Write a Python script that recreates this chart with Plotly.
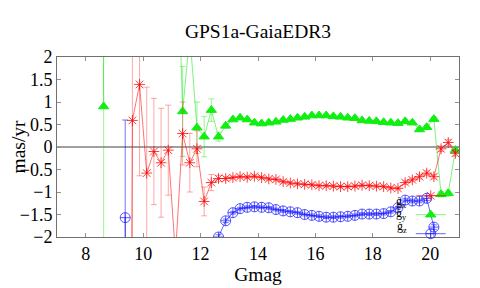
import plotly.graph_objects as go

# ---- data ----
mag_x = [9.375, 9.625, 9.875, 10.125, 10.375, 10.625, 10.875, 11.125, 11.375, 11.625,
         11.875, 12.125, 12.375, 12.625, 12.875, 13.125, 13.375, 13.625, 13.875, 14.125,
         14.375, 14.625, 14.875, 15.125, 15.375, 15.625, 15.875, 16.125, 16.375, 16.625,
         16.875, 17.125, 17.375, 17.625, 17.875, 18.125, 18.375, 18.625, 18.875, 19.125,
         19.375, 19.625, 19.875, 20.125, 20.375, 20.625, 20.875]
gx = [-30, 0.59, 1.39, -0.58, -0.10, -0.35, -0.07, -2.4, 0.30, -0.35,
      -0.04, -1.21, -0.79, -0.70, -0.70, -0.68, -0.66, -0.67, -0.65, -0.68,
      -0.71, -0.72, -0.77, -0.80, -0.82, -0.83, -0.84, -0.86, -0.86, -0.87,
      -0.88, -0.88, -0.87, -0.85, -0.86, -0.87, -0.88, -0.91, -0.92, -0.79,
      -0.73, -0.66, -0.58, -0.66, -0.04, 0.10, -0.14]
gx_err = [0, 3.0, 2.03, 1.91, 1.18, 1.21, 1.0, 0.3, 0.7, 0.65,
          0.4, 0.32, 0.18, 0.07, 0.04, 0.03, 0.03, 0.03, 0.03, 0.03,
          0.03, 0.03, 0.03, 0.03, 0.03, 0.03, 0.03, 0.03, 0.03, 0.03,
          0.03, 0.03, 0.03, 0.03, 0.03, 0.03, 0.03, 0.03, 0.03, 0.04,
          0.04, 0.05, 0.05, 0.05, 0.06, 0.06, 0.06]

mag_y = [8.375, 8.625, 8.875, 11.125, 11.375, 11.625, 11.875, 12.125, 12.375, 12.625,
         12.875, 13.125, 13.375, 13.625, 13.875, 14.125, 14.375, 14.625, 14.875, 15.125,
         15.375, 15.625, 15.875, 16.125, 16.375, 16.625, 16.875, 17.125, 17.375, 17.625,
         17.875, 18.125, 18.375, 18.625, 18.875, 19.125, 19.375, 19.625, 19.875, 20.125,
         20.375, 20.625, 20.875]
gy = [30, 0.90, None, 6.0, 0.79, 2.5, 0.43, 0.23, 0.82, 0.23,
      0.47, 0.61, 0.65, 0.61, 0.54, 0.52, 0.54, 0.56, 0.60, 0.62,
      0.65, 0.67, 0.70, 0.70, 0.70, 0.68, 0.67, 0.65, 0.64, 0.59,
      0.58, 0.57, 0.55, 0.54, 0.53, 0.57, 0.54, 0.39, 0.44, 0.62,
      -1.05, -1.03, -0.07]
gy_err = [0, 5.0, 0, 0, 1.0, 0.3, 0.57, 0.45, 0.25, 0.1,
          0.05, 0.03, 0.03, 0.03, 0.03, 0.03, 0.03, 0.03, 0.03, 0.03,
          0.03, 0.03, 0.03, 0.03, 0.03, 0.03, 0.03, 0.03, 0.03, 0.03,
          0.03, 0.03, 0.03, 0.03, 0.03, 0.04, 0.04, 0.05, 0.05, 0.05,
          0.06, 0.06, 0.06]

mag_z = [9.375, 9.625, 9.875, 12.375, 12.625, 12.875, 13.125, 13.375, 13.625, 13.875,
         14.125, 14.375, 14.625, 14.875, 15.125, 15.375, 15.625, 15.875, 16.125, 16.375,
         16.625, 16.875, 17.125, 17.375, 17.625, 17.875, 18.125, 18.375, 18.625, 18.875,
         19.125, 19.375, 19.625, 19.875, 20.125, 20.375]
gz = [-1.57, -30, None, -30, -2.0, -1.64, -1.46, -1.37, -1.34, -1.33,
      -1.34, -1.35, -1.39, -1.42, -1.44, -1.46, -1.50, -1.52, -1.54, -1.56,
      -1.56, -1.55, -1.54, -1.52, -1.49, -1.49, -1.49, -1.48, -1.44, -1.35,
      -1.18, -1.20, -1.20, -1.14, -1.78, -30]
gz_err = [2.17, 0, 0, 0, 0.05, 0.04, 0.03, 0.03, 0.03, 0.03,
          0.03, 0.03, 0.03, 0.03, 0.03, 0.03, 0.03, 0.03, 0.03, 0.03,
          0.03, 0.03, 0.03, 0.03, 0.03, 0.03, 0.03, 0.03, 0.03, 0.03,
          0.04, 0.04, 0.04, 0.05, 0.05, 0]

labels = ["ġ<sub>x</sub>", "ġ<sub>y</sub>", "ġ<sub>z</sub>"]
title = "GPS1a-GaiaEDR3"
x_ticks = [8, 10, 12, 14, 16, 18, 20]
y_ticks = [-2, -1.5, -1, -0.5, 0, 0.5, 1, 1.5, 2]

FONT = "Liberation Serif"

fig = go.Figure()

def add(xs, ys, errs, line_c, mark_c, err_c, symbol, size, rank):
    fig.add_trace(go.Scatter(
        x=xs, y=ys, mode="lines+markers", name="", showlegend=True,
        connectgaps=False, legendrank=rank,
        line=dict(color=line_c, width=1),
        marker=dict(symbol=symbol, size=size, color=mark_c,
                    line=dict(color=mark_c, width=1)),
        error_y=dict(type="data", array=errs, visible=True, color=err_c,
                     thickness=1, width=3),
    ))

# green drawn first so the red stars stay on top of its error bars
add(mag_y, gy, gy_err, "rgba(0,230,0,0.5)", "#11ee11",
    "rgba(0,230,0,0.4)", "triangle-up", 9, 2)
add(mag_x, gx, gx_err, "rgba(255,0,0,0.55)", "rgba(255,0,0,0.75)",
    "rgba(255,60,60,0.45)", "asterisk-open", 9, 1)
add(mag_z, gz, gz_err, "rgba(0,0,255,0.6)", "rgba(30,30,255,0.75)",
    "rgba(0,0,255,0.55)", "circle-cross-open", 10, 3)

axis_common = dict(showgrid=False, showline=True, linecolor="#707070", linewidth=1,
                   mirror="ticks", ticks="inside", ticklen=4, tickcolor="#909090",
                   automargin=False,
                   tickfont=dict(family=FONT, size=18, color="black"))

fig.update_xaxes(range=[7, 21], tickvals=x_ticks, zeroline=False,
                 title=dict(text="Gmag", font=dict(family=FONT, size=19.5, color="black"),
                            standoff=1),
                 **axis_common)
fig.update_yaxes(range=[-2, 2], tickvals=y_ticks, zeroline=True,
                 zerolinecolor="#a0a0a0", zerolinewidth=2,
                 title=dict(text="mas/yr", font=dict(family=FONT, size=19.5, color="black"),
                            standoff=4),
                 **axis_common)

label_y = [0.192, 0.128, 0.053]
for lab, ly in zip(labels, label_y):
    fig.add_annotation(x=0.876, y=ly, xref="paper", yref="paper",
                       text=lab, showarrow=False, xanchor="right", yanchor="middle",
                       font=dict(family=FONT, size=12, color="black"))

# the page body has an 8px margin, so the figure is 8px smaller and margins are shifted
fig.update_layout(
    width=472, height=280,
    margin=dict(l=49, r=21, t=49, b=51, autoexpand=False),
    paper_bgcolor="white", plot_bgcolor="white",
    title=dict(text=title, x=0.5, xref="paper", y=0.918, yref="container",
               xanchor="center", yanchor="middle",
               font=dict(family=FONT, size=19.5, color="black")),
    legend=dict(x=0.88, y=0.31, xanchor="left", yanchor="top",
                bgcolor="rgba(0,0,0,0)", borderwidth=0,
                font=dict(family=FONT, size=10), itemwidth=30),
    showlegend=True,
)

fig.write_html("out.html")
